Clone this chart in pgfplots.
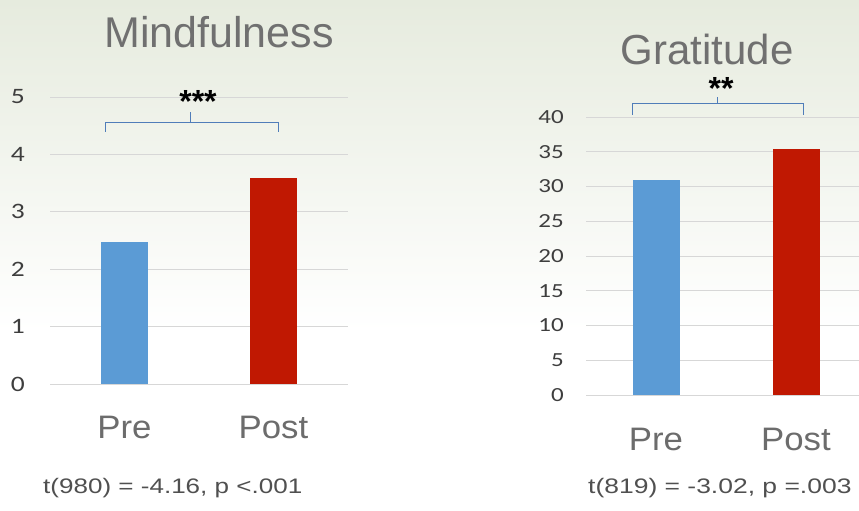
\documentclass[border=0pt]{standalone}
\usepackage{pgfplots}
\pgfplotsset{compat=1.18}
\usepackage{graphicx}
\usepackage{fontspec}
\setmainfont{Liberation Sans}
\newfontfamily\calibri[FakeStretch=1.25]{Carlito}
\definecolor{bgtop}{RGB}{230,235,222}
\definecolor{barblue}{RGB}{91,155,213}
\definecolor{barred}{RGB}{192,24,2}
\definecolor{gridgray}{RGB}{215,215,215}
\definecolor{brblue}{RGB}{80,125,185}
\definecolor{titlegray}{RGB}{112,112,112}
\definecolor{labgray}{RGB}{108,108,108}
\definecolor{tickgray}{RGB}{62,62,62}
\definecolor{capgray}{RGB}{80,80,80}
\pgfplotsset{panel/.style={
  scale only axis, clip=false,
  axis line style={draw=none}, major tick style={draw=none},
  ymajorgrids, grid style={gridgray, line width=0.9pt},
  xmin=0, xmax=2, xtick={0.5,1.5},
  xticklabels={\scalebox{1.07}[1]{Pre},\scalebox{1.07}[1]{Post}},
  ybar, bar width=47pt, bar shift=0pt,
  /pgf/number format/assume math mode=true,
  yticklabel style={text=tickgray, anchor=east, inner sep=0pt},
  xticklabel style={font=\fontsize{32.5}{32.5}\selectfont, text=labgray, anchor=base, inner sep=0pt},
}}
\begin{document}
\begin{tikzpicture}
\path[use as bounding box] (0pt,0pt) rectangle (859pt,511pt);
\fill[white] (0pt,0pt) rectangle (859pt,182pt);
\shade[top color=bgtop, bottom color=white] (0pt,180pt) rectangle (859pt,511pt);

% Mindfulness panel
\begin{axis}[panel, at={(50pt,127pt)}, anchor=south west,
  width=298pt, height=287pt, ymin=0, ymax=5, ytick={0,1,2,3,4,5},
  yticklabel style={font=\calibri\fontsize{22}{22}\selectfont, xshift=-25pt},
  xticklabel style={yshift=-50pt}]
\addplot[fill=barblue, draw=none] coordinates {(0.5,2.47)};
\addplot[fill=barred, draw=none] coordinates {(1.5,3.59)};
\end{axis}

% Gratitude panel
\begin{axis}[panel, at={(586pt,116pt)}, anchor=south west,
  width=280pt, height=278pt, ymin=0, ymax=40, ytick={0,5,...,40},
  yticklabel style={font=\calibri\fontsize{20}{20}\selectfont, xshift=-22pt},
  xticklabel style={yshift=-51pt}]
\addplot[fill=barblue, draw=none] coordinates {(0.5,30.9)};
\addplot[fill=barred, draw=none] coordinates {(1.5,35.4)};
\end{axis}

\begin{scope}[x=1pt,y=1pt]
% titles
\node[anchor=base, inner sep=0pt, text=titlegray, font=\fontsize{43}{43}\selectfont] at (219,463) {Mindfulness};
\node[anchor=base, inner sep=0pt, text=titlegray, font=\fontsize{42}{42}\selectfont] at (707,446) {Gratitude};

% brackets
\draw[brblue, line width=0.9pt] (105,379) -- (105,389) -- (278,389) -- (278,379);
\draw[brblue, line width=0.9pt] (190,389) -- (190,399);
\draw[brblue, line width=0.9pt] (632,396) -- (632,408) -- (803,408) -- (803,396);
\draw[brblue, line width=0.9pt] (717,408) -- (717,414);

% significance stars
\node[anchor=base, inner sep=0pt, font=\bfseries\fontsize{32}{32}\selectfont] at (198,398) {***};
\node[anchor=base, inner sep=0pt, font=\bfseries\fontsize{32}{32}\selectfont] at (721,411) {**};

% captions
\node[anchor=base west, inner sep=0pt, text=capgray, font=\fontsize{21}{21}\selectfont] at (43,17) {\scalebox{1.24}[1]{t(980) = -4.16, p <.001}};
\node[anchor=base west, inner sep=0pt, text=capgray, font=\fontsize{21}{21}\selectfont] at (588,17) {\scalebox{1.26}[1]{t(819) = -3.02, p =.003}};
\end{scope}
\end{tikzpicture}
\end{document}
